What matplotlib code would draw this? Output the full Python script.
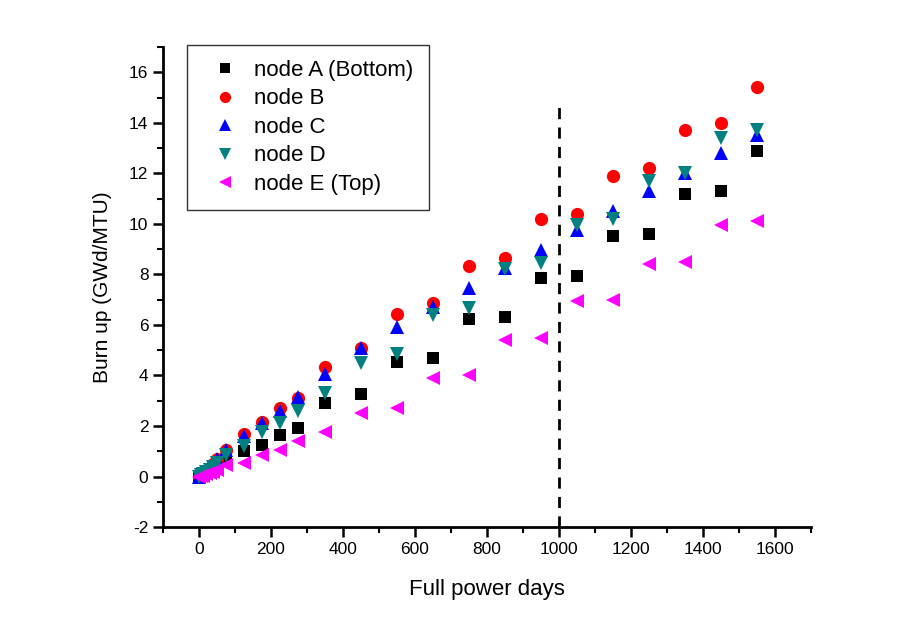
import matplotlib
matplotlib.use("Agg")
import matplotlib.pyplot as plt
from matplotlib.ticker import MultipleLocator

plt.rcParams['font.family'] = ['Liberation Sans', 'DejaVu Sans']
plt.rcParams['axes.unicode_minus'] = False

days = [0, 5, 10, 20, 30, 40, 50, 75, 125, 175, 225, 275, 350, 450, 550, 650,
        750, 850, 950, 1050, 1150, 1250, 1350, 1450, 1550]

node_a = [0.0, 0.02, 0.05, 0.12, 0.2, 0.28, 0.38, 0.6, 1.0, 1.25, 1.65, 1.9, 2.9, 3.25,
          4.55, 4.7, 6.25, 6.3, 7.85, 7.95, 9.5, 9.6, 11.2, 11.3, 12.9]
node_b = [0.0, 0.05, 0.1, 0.22, 0.35, 0.5, 0.68, 1.05, 1.7, 2.15, 2.7, 3.1, 4.35, 5.1,
          6.45, 6.85, 8.35, 8.65, 10.2, 10.4, 11.9, 12.2, 13.7, 14.0, 15.4]
node_c = [0.0, 0.05, 0.1, 0.22, 0.35, 0.5, 0.68, 1.05, 1.6, 2.1, 2.6, 3.15, 4.05, 5.1,
          5.9, 6.7, 7.45, 8.25, 8.95, 9.75, 10.5, 11.3, 12.0, 12.8, 13.5]
node_d = [0.0, 0.04, 0.08, 0.17, 0.27, 0.38, 0.52, 0.85, 1.2, 1.75, 2.1, 2.6, 3.3, 4.5,
          4.85, 6.4, 6.65, 8.2, 8.45, 9.95, 10.2, 11.7, 12.0, 13.4, 13.7]
node_e = [0.0, 0.01, 0.03, 0.08, 0.13, 0.19, 0.27, 0.45, 0.55, 0.85, 1.05, 1.4, 1.75, 2.5,
          2.7, 3.9, 4.0, 5.4, 5.5, 6.95, 7.0, 8.4, 8.5, 9.95, 10.1]

labels = ["node A (Bottom)", "node B", "node C", "node D", "node E (Top)"]
series = [node_a, node_b, node_c, node_d, node_e]
markers = ["s", "o", "^", "v", "<"]
colors = ["#000000", "#ff0000", "#0000ff", "#008080", "#ff00ff"]
sizes = [8.5, 9.5, 10, 10, 10]

cycle_day = 1000

fig = plt.figure(figsize=(9.24, 6.26), dpi=100)
ax = fig.add_axes([0.1764, 0.1581, 0.7013, 0.7668])

for ys, lab, m, c, s in zip(series, labels, markers, colors, sizes):
    ax.plot(days, ys, linestyle="none", marker=m, color=c, markersize=s,
            markeredgewidth=0, label=lab)

ax.plot([cycle_day, cycle_day], [-2, 14.7], color="black", linestyle=(0, (4, 3)),
        linewidth=2)

ax.set_xlim(-100, 1700)
ax.set_ylim(-2, 17)
ax.xaxis.set_minor_locator(MultipleLocator(100))
ax.yaxis.set_minor_locator(MultipleLocator(1))
ax.set_xticks([0, 200, 400, 600, 800, 1000, 1200, 1400, 1600])
ax.set_yticks([-2, 0, 2, 4, 6, 8, 10, 12, 14, 16])

for side in ["top", "right"]:
    ax.spines[side].set_visible(False)
for side in ["left", "bottom"]:
    ax.spines[side].set_linewidth(2)

ax.tick_params(which="major", direction="out", length=7, width=1.8, labelsize=12.5)
ax.tick_params(which="minor", direction="out", length=4, width=1.5)

ax.set_xlabel("Full power days", fontsize=16, labelpad=16)
ax.set_ylabel("Burn up (GWd/MTU)", fontsize=15, labelpad=12)

leg = ax.legend(loc="upper left", bbox_to_anchor=(0.037, 1.005), fontsize=16,
                frameon=True, fancybox=False, edgecolor="black", markerscale=0.85,
                handletextpad=0.25, labelspacing=0.34, borderpad=0.68,
                handlelength=2.1, borderaxespad=0)
leg.get_frame().set_linewidth(1.0)

fig.savefig("out.png", dpi=100)
